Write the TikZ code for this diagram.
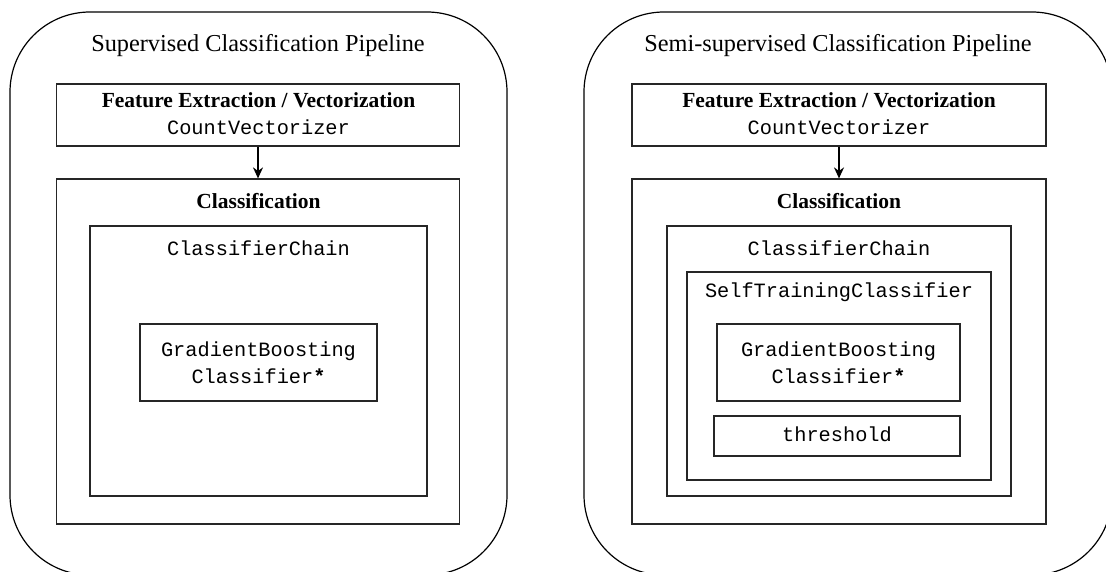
\documentclass[tikz,border=0pt]{standalone}
\usepackage{fontspec}
\setmainfont{Liberation Serif}
\setmonofont{Liberation Mono}
\usetikzlibrary{arrows.meta}
\tikzset{
  box/.style={draw=black!85, line width=1.2pt, rectangle, inner sep=0pt},
  panel/.style={draw=black, line width=1.2pt, rounded corners=80pt},
  titletxt/.style={anchor=base, inner sep=0pt, font=\fontsize{24.3}{29}\selectfont},
  headtxt/.style={anchor=base, inner sep=0pt, font=\fontsize{21.5}{25}\selectfont\bfseries},
  codetxt/.style={anchor=base, inner sep=0pt, font=\fontsize{20.3}{24}\selectfont\ttfamily},
  flow/.style={-{Stealth[length=11pt,width=10pt]}, line width=1.5pt, black}
}
\begin{document}
\begin{tikzpicture}[x=1pt,y=-1pt]
\useasboundingbox (0,0) rectangle (1106,572);
\begin{scope}
\clip (0,0) rectangle (1106,572);
% ---------- left panel ----------
\draw[panel] (10,12) rectangle (507,575);
\node[titletxt] (t1) at (258,52) {Supervised Classification Pipeline};
\node[box, minimum width=403pt, minimum height=62pt] (feat1) at (258,115) {};
\node[headtxt] (fh1) at (258.5,108) {Feature Extraction / Vectorization};
\node[codetxt] (fc1) at (258.5,135) {CountVectorizer};
\node[box, minimum width=403pt, minimum height=345pt] (cls1) at (258,351.5) {};
\node[headtxt] (ch1) at (258.5,209) {Classification};
\node[box, minimum width=337pt, minimum height=270pt] (chain1) at (258.5,361) {};
\node[codetxt] (cc1) at (258.5,255) {ClassifierChain};
\node[box, minimum width=237pt, minimum height=77pt] (gbc1) at (258.5,362.5) {};
\node[codetxt] (g1a) at (258.5,356) {GradientBoosting};
\node[codetxt] (g1b) at (258.5,383) {Classifier\textbf{*}};
\draw[flow] (feat1.south) -- (cls1.north);
% ---------- right panel ----------
\draw[panel] (584,12) rectangle (1112,575);
\node[titletxt] (t2) at (838,52) {Semi-supervised Classification Pipeline};
\node[box, minimum width=414pt, minimum height=62pt] (feat2) at (839,115) {};
\node[headtxt] (fh2) at (839,108) {Feature Extraction / Vectorization};
\node[codetxt] (fc2) at (839,135) {CountVectorizer};
\node[box, minimum width=414pt, minimum height=345pt] (cls2) at (839,351.5) {};
\node[headtxt] (ch2) at (839,209) {Classification};
\node[box, minimum width=344pt, minimum height=270pt] (chain2) at (839,361) {};
\node[codetxt] (cc2) at (839,255) {ClassifierChain};
\node[box, minimum width=304pt, minimum height=208pt] (self2) at (839,376) {};
\node[codetxt] (sc2) at (839,298) {SelfTrainingClassifier};
\node[box, minimum width=243pt, minimum height=77pt] (gbc2) at (838.5,362.5) {};
\node[codetxt] (g2a) at (838.5,356) {GradientBoosting};
\node[codetxt] (g2b) at (838.5,383) {Classifier\textbf{*}};
\node[box, minimum width=246pt, minimum height=40pt] (thr2) at (837,436) {};
\node[codetxt] (th2) at (837,441) {threshold};
\draw[flow] (feat2.south) -- (cls2.north);
\end{scope}
\end{tikzpicture}
\end{document}
